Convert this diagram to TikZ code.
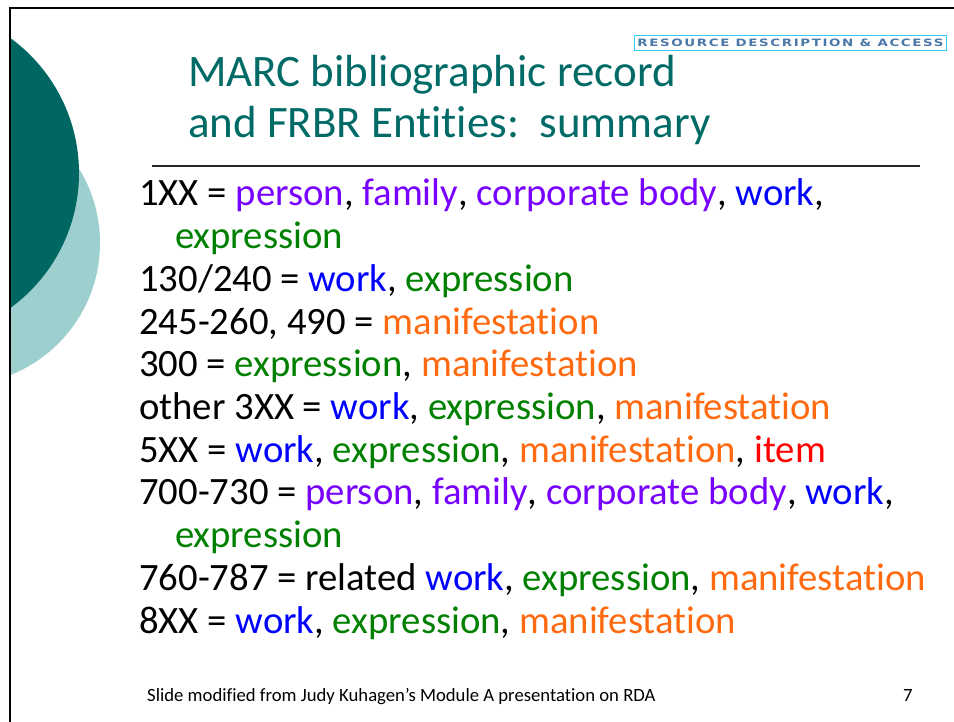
\documentclass[tikz,border=0pt]{standalone}
\usepackage{fontspec}
\setmainfont[Ligatures=NoCommon]{Carlito}
\newfontfamily\logofont[LetterSpace=12]{DejaVu Sans}
\usepackage{xcolor}
\usepackage{tikz}

\definecolor{tealdark}{HTML}{006661}
\definecolor{teallight}{HTML}{9ECFCF}
\definecolor{titleteal}{HTML}{006B66}
\definecolor{entpurple}{HTML}{7700FF}
\definecolor{entblue}{HTML}{0000FF}
\definecolor{entgreen}{HTML}{008000}
\definecolor{entorange}{HTML}{FF6A10}
\definecolor{entred}{HTML}{FF0000}
\definecolor{logoblue}{HTML}{4A78A8}
\definecolor{logoframe}{HTML}{33CCFF}

\newcommand{\ag}[1]{\textcolor{entpurple}{#1}}
\newcommand{\wk}[1]{\textcolor{entblue}{#1}}
\newcommand{\ex}[1]{\textcolor{entgreen}{#1}}
\newcommand{\mf}[1]{\textcolor{entorange}{#1}}
\newcommand{\itm}[1]{\textcolor{entred}{#1}}

\tikzset{
  entryline/.style={anchor=base west, inner sep=0pt, font=\fontsize{38.7}{43}\selectfont},
  titleline/.style={anchor=base west, inner sep=0pt, text=titleteal, font=\fontsize{45}{51}\selectfont},
  footline/.style={anchor=base west, inner sep=0pt, font=\fontsize{18.7}{22}\selectfont},
}

\begin{document}
\begin{tikzpicture}[x=1pt, y=-1pt]
        \useasboundingbox (0,0) rectangle (954,722);
        
        % circles on the left
        \begin{scope}
            \clip (10,0) rectangle (954,722);
            \fill[teallight] (-42,243) circle[radius=142pt];
            \fill[tealdark] (-88,173) circle[radius=167pt];
        \end{scope}
        
        % slide frame
        \draw[line width=2pt] (10,722) -- (10,8) -- (954,8);
        
        % logo
        \node[draw=logoframe, line width=1pt, inner xsep=3pt, inner ysep=3.5pt, anchor=north east] (logo) at (947,35)
            {\resizebox{306pt}{7.5pt}{\logofont\bfseries\color{logoblue}RESOURCE DESCRIPTION \& ACCESS}};
        
        % title
        \node[titleline] (t1) at (188,87) {MARC bibliographic record};
        \node[titleline] (t2) at (188,138) {and FRBR Entities:\ \ summary};
        \draw[line width=1.5pt, black!85] (152,166) -- (920,166);
        
        % entries
        \node[entryline] (l1) at (139,206) {1XX = \ag{person}, \ag{family}, \ag{corporate body}, \wk{work},};
        \node[entryline] (l2) at (175,248.7) {\ex{expression}};
        \node[entryline] (l3) at (139,291.4) {130/240 = \wk{work}, \ex{expression}};
        \node[entryline] (l4) at (139,334.1) {245-260, 490 = \mf{manifestation}};
        \node[entryline] (l5) at (139,376.8) {300 = \ex{expression}, \mf{manifestation}};
        \node[entryline] (l6) at (139,419.5) {other 3XX = \wk{work}, \ex{expression}, \mf{manifestation}};
        \node[entryline] (l7) at (139,462.2) {5XX = \wk{work}, \ex{expression}, \mf{manifestation}, \itm{item}};
        \node[entryline] (l8) at (139,504.9) {700-730 = \ag{person}, \ag{family}, \ag{corporate body}, \wk{work},};
        \node[entryline] (l9) at (175,547.6) {\ex{expression}};
        \node[entryline] (l10) at (139,590.3) {760-787 = related \wk{work}, \ex{expression}, \mf{manifestation}};
        \node[entryline] (l11) at (139,633) {8XX = \wk{work}, \ex{expression}, \mf{manifestation}};
        
        % footer
        \node[footline] (foot) at (147,701)
            {Slide modified from Judy Kuhagen’s Module A presentation on RDA};
        \node[footline] (pagenum) at (903,701) {7};
    \end{tikzpicture}
\end{document}
